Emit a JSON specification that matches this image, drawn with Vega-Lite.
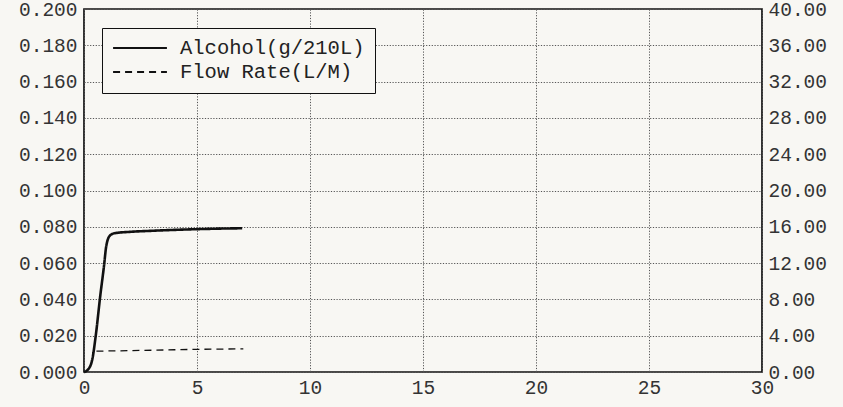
{
  "$schema": "https://vega.github.io/schema/vega-lite/v6.json",
  "autosize": {"type": "none"},
  "padding": {"left": 84, "top": 9, "right": 81, "bottom": 35},
  "width": 678,
  "height": 363,
  "background": "#f8f7f3",
  "config": {
    "view": {"stroke": "#111111", "strokeWidth": 1.7},
    "axis": {
      "labelFont": "Liberation Mono",
      "labelFontSize": 19.5,
      "labelColor": "#333333",
      "domain": false,
      "ticks": false,
      "gridColor": "#555555",
      "gridDash": [1.2, 1.6],
      "gridWidth": 1,
      "title": null
    },
    "legend": {
      "orient": "none",
      "legendX": 18,
      "legendY": 19,
      "title": null,
      "strokeColor": "#111111",
      "fillColor": "#f8f7f3",
      "padding": 10,
      "rowPadding": 3,
      "clipHeight": 20,
      "labelLimit": 0,
      "labelOffset": 12,
      "labelFont": "Liberation Mono",
      "labelFontSize": 20.5,
      "labelColor": "#222222",
      "symbolType": "stroke",
      "symbolSize": 2900,
      "symbolStrokeWidth": 2,
      "symbolStrokeColor": "#111111"
    }
  },
  "datasets": {
    "alc": [
      {"t": 0, "alcohol": 0.0},
      {"t": 0.15, "alcohol": 0.001},
      {"t": 0.35, "alcohol": 0.006},
      {"t": 0.53, "alcohol": 0.021},
      {"t": 0.71, "alcohol": 0.041},
      {"t": 0.89, "alcohol": 0.059},
      {"t": 0.98, "alcohol": 0.069},
      {"t": 1.15, "alcohol": 0.0752},
      {"t": 1.37, "alcohol": 0.0765},
      {"t": 2, "alcohol": 0.0772},
      {"t": 3, "alcohol": 0.0778},
      {"t": 4, "alcohol": 0.0783},
      {"t": 5, "alcohol": 0.0787},
      {"t": 6, "alcohol": 0.079},
      {"t": 7, "alcohol": 0.0792}
    ],
    "flow": [
      {"t": 0.55, "flow": 2.3},
      {"t": 2, "flow": 2.35},
      {"t": 4, "flow": 2.45},
      {"t": 5, "flow": 2.5},
      {"t": 7.05, "flow": 2.55}
    ]
  },
  "layer": [
    {
      "data": {"name": "alc"},
      "mark": {"type": "line", "interpolate": "monotone", "color": "#111111", "strokeWidth": 2.6},
      "encoding": {
        "x": {
          "field": "t",
          "type": "quantitative",
          "scale": {"domain": [0, 30], "nice": false},
          "axis": {"values": [0, 5, 10, 15, 20, 25, 30], "labelFlush": false, "labelPadding": 6, "grid": true}
        },
        "y": {
          "field": "alcohol",
          "type": "quantitative",
          "scale": {"domain": [0, 0.2], "nice": false},
          "axis": {"format": ".3f", "values": [0, 0.02, 0.04, 0.06, 0.08, 0.1, 0.12, 0.14, 0.16, 0.18, 0.2], "labelPadding": 7, "grid": true}
        },
        "strokeDash": {
          "datum": "Alcohol(g/210L)",
          "type": "nominal",
          "scale": {"domain": ["Alcohol(g/210L)", "Flow Rate(L/M)"], "range": [[1, 0], [7, 5]]}
        }
      }
    },
    {
      "data": {"name": "flow"},
      "mark": {"type": "line", "color": "#111111", "strokeWidth": 1.3},
      "encoding": {
        "x": {"field": "t", "type": "quantitative"},
        "y": {
          "field": "flow",
          "type": "quantitative",
          "scale": {"domain": [0, 40], "nice": false},
          "axis": {"orient": "right", "format": ".2f", "values": [0, 4, 8, 12, 16, 20, 24, 28, 32, 36, 40], "grid": false, "labelPadding": 6}
        },
        "strokeDash": {"datum": "Flow Rate(L/M)", "type": "nominal"}
      }
    }
  ],
  "resolve": {"scale": {"y": "independent"}}
}
